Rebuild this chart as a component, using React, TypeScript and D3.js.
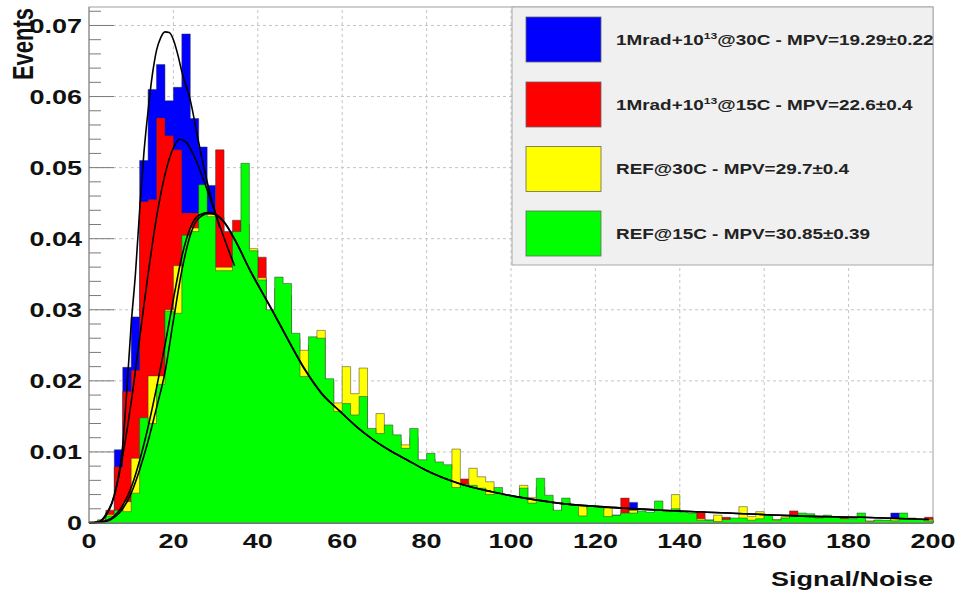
import React from "react";
import * as d3 from "d3";

const W = 957;
const H = 593;
const X_DOMAIN: [number, number] = [0, 200];
const Y_DOMAIN: [number, number] = [0, 0.0726];
const BIN_WIDTH = 2;

const xTicks = [0, 20, 40, 60, 80, 100, 120, 140, 160, 180, 200];
const xTickLabels = ["0", "20", "40", "60", "80", "100", "120", "140", "160", "180", "200"];
const yTicks = [0, 0.01, 0.02, 0.03, 0.04, 0.05, 0.06, 0.07];
const yTickLabels = ["0", "0.01", "0.02", "0.03", "0.04", "0.05", "0.06", "0.07"];

// 100 bins of width 2 from 0 to 200
const blueCounts = [
  0.0001, 0.0003, 0.0015, 0.0103, 0.0219, 0.029, 0.051, 0.061, 0.0645, 0.0594,
  0.0613, 0.0688, 0.0569, 0.0529, 0.0475, 0.043, 0.039, 0.035, 0.032, 0.029,
  0.026, 0.024, 0.0215, 0.0195, 0.0175, 0.016, 0.0145, 0.013, 0.012, 0.011,
  0.01, 0.0092, 0.0085, 0.0078, 0.0072, 0.0066, 0.0061, 0.0056, 0.0052, 0.0048,
  0.0045, 0.0042, 0.0039, 0.0036, 0.0034, 0.0032, 0.003, 0.0028, 0.0026, 0.0024,
  0.0023, 0.0022, 0.002, 0.0019, 0.0018, 0.0016, 0.0016, 0.0015, 0.0014, 0.0013,
  0.0013, 0.0008, 0.0011, 0.0011, 0.0029, 0.001, 0.0009, 0.0009, 0.0008, 0.0008,
  0.0004, 0.0004, 0.0004, 0.0004, 0.0004, 0.0004, 0.0004, 0.0004, 0.0003, 0.0003,
  0.0003, 0.0003, 0.0003, 0.0003, 0.0003, 0.0003, 0.0003, 0.0003, 0.0003, 0.0003,
  0.0003, 0.0003, 0.0002, 0.0002, 0.0002, 0.0014, 0.0002, 0.0002, 0.0002, 0.0002,
];

const redCounts = [
  0.0001, 0.0004, 0.0018, 0.0079, 0.0185, 0.0215, 0.0452, 0.0455, 0.057, 0.0545,
  0.0525, 0.0436, 0.0436, 0.0412, 0.04, 0.0525, 0.041, 0.0426, 0.038, 0.035,
  0.0374, 0.028, 0.026, 0.024, 0.022, 0.0195, 0.018, 0.016, 0.015, 0.0135,
  0.0125, 0.0115, 0.0105, 0.0098, 0.009, 0.0085, 0.0078, 0.0072, 0.0066, 0.0062,
  0.0058, 0.0055, 0.005, 0.0046, 0.0062, 0.004, 0.0037, 0.0035, 0.0032, 0.003,
  0.0028, 0.0026, 0.0025, 0.0023, 0.0021, 0.0016, 0.0019, 0.0017, 0.0016, 0.0015,
  0.0014, 0.0008, 0.001, 0.0035, 0.0012, 0.0011, 0.001, 0.001, 0.0009, 0.0009,
  0.0008, 0.0008, 0.0016, 0.0004, 0.0005, 0.0008, 0.0006, 0.0006, 0.0004, 0.0005,
  0.0005, 0.0004, 0.0005, 0.0017, 0.0004, 0.0004, 0.0004, 0.0004, 0.0004, 0.0008,
  0.0003, 0.0003, 0.0002, 0.0003, 0.0003, 0.0003, 0.0003, 0.0003, 0.0003, 0.0008,
];

const yellowCounts = [
  0.0002, 0.0004, 0.0012, 0.0017, 0.003, 0.0091, 0.014, 0.0207, 0.0207, 0.03,
  0.0362, 0.04, 0.0415, 0.044, 0.0434, 0.036, 0.036, 0.04, 0.042, 0.0386,
  0.0345, 0.029, 0.033, 0.032, 0.026, 0.0243, 0.025, 0.0271, 0.02, 0.0169,
  0.022, 0.0182, 0.0218, 0.0125, 0.0154, 0.013, 0.0115, 0.011, 0.012, 0.0085,
  0.009, 0.008, 0.0075, 0.0104, 0.005, 0.0077, 0.0065, 0.0058, 0.0045, 0.0035,
  0.0033, 0.0053, 0.0036, 0.005, 0.003, 0.0015, 0.003, 0.0026, 0.0024, 0.002,
  0.0018, 0.0021, 0.0008, 0.0012, 0.0018, 0.0012, 0.001, 0.0017, 0.0017, 0.004,
  0.001, 0.001, 0.0006, 0.0003, 0.0011, 0.0004, 0.0005, 0.0023, 0.0009, 0.0016,
  0.0006, 0.0005, 0.0009, 0.0008, 0.0006, 0.0008, 0.0008, 0.0005, 0.0006, 0.0004,
  0.0006, 0.0005, 0.0003, 0.0004, 0.0003, 0.0006, 0.0006, 0.0004, 0.0003, 0.0005,
];

const greenCounts = [
  0.0001, 0.0004, 0.001, 0.0018, 0.0016, 0.0042, 0.0148, 0.014, 0.0195, 0.0298,
  0.0295, 0.0405, 0.041, 0.0476, 0.0431, 0.0355, 0.0355, 0.041, 0.0506, 0.0383,
  0.0342, 0.03, 0.0346, 0.0337, 0.0267, 0.0206, 0.0262, 0.026, 0.0203, 0.0157,
  0.0168, 0.0152, 0.0178, 0.0133, 0.0126, 0.0138, 0.0124, 0.0105, 0.0133, 0.0089,
  0.0098, 0.0086, 0.0082, 0.005, 0.0055, 0.0053, 0.0049, 0.004, 0.005, 0.0039,
  0.0037, 0.0049, 0.0028, 0.0063, 0.0039, 0.0018, 0.0035, 0.0025, 0.001, 0.0024,
  0.0023, 0.0009, 0.0011, 0.0014, 0.0014, 0.0017, 0.0015, 0.0031, 0.0016, 0.002,
  0.0015, 0.0014, 0.0004, 0.0004, 0.0002, 0.0005, 0.0007, 0.0007, 0.0004, 0.0006,
  0.0011, 0.0004, 0.0007, 0.0011, 0.0014, 0.0013, 0.0007, 0.0011, 0.0009, 0.0006,
  0.0006, 0.0014, 0.0002, 0.0004, 0.0004, 0.0003, 0.0014, 0.0007, 0.0005, 0.0003,
];

// Fit curves: [signal/noise, value]
const fitBlue: [number, number][] = [
  [0, 0], [2, 0.0001], [4, 0.0012], [6, 0.004], [8, 0.011], [9, 0.019], [10, 0.028],
  [11, 0.035], [12, 0.044], [13, 0.052], [14, 0.058], [15, 0.063], [16, 0.0665],
  [17, 0.0683], [18, 0.0691], [19, 0.069], [20, 0.068], [21, 0.066], [22, 0.0635],
  [24, 0.0595], [26, 0.0535], [28, 0.048], [30, 0.0435], [31, 0.0415],
];
const fitRed: [number, number][] = [
  [0, 0], [2, 0.0001], [4, 0.001], [6, 0.0038], [8, 0.0095], [10, 0.017], [12, 0.026],
  [14, 0.035], [16, 0.043], [18, 0.049], [20, 0.0528], [21.5, 0.054], [23, 0.0536],
  [25, 0.0515], [27, 0.0485], [29, 0.0452], [31, 0.0418], [33, 0.0385], [34.5, 0.0362],
];
const fitYellow: [number, number][] = [
  [0, 0], [4, 0.0003], [6, 0.001], [8, 0.0025], [10, 0.005], [12, 0.0088], [14, 0.0135],
  [16, 0.019], [18, 0.025], [20, 0.0315], [22, 0.0375], [24, 0.0415], [26, 0.0433],
  [28.6, 0.0437], [32, 0.0424], [35, 0.0394], [38, 0.0358], [41.6, 0.0319], [43.3, 0.0301],
  [47.2, 0.0258], [51.2, 0.0216], [55.1, 0.0183], [59.5, 0.0157], [63.5, 0.0135],
  [67.4, 0.0117], [71.3, 0.0102], [75.3, 0.0089], [79.6, 0.0075], [87.5, 0.0056],
  [95.4, 0.0044], [103.3, 0.0035], [111.2, 0.0028], [121, 0.0023], [135.7, 0.0018],
  [151.5, 0.0014], [167.3, 0.001], [183, 0.0008], [199, 0.0005],
];
const fitGreen: [number, number][] = [
  [0, 0], [4, 0.0002], [6, 0.0008], [8, 0.002], [10, 0.0042], [12, 0.0075], [14, 0.0115],
  [16, 0.0162], [18, 0.0212], [20, 0.0285], [22, 0.0355], [24, 0.0405], [26, 0.0429],
  [28.6, 0.0436], [32, 0.0423], [35, 0.0393], [38, 0.0357], [41.6, 0.0318], [43.3, 0.03],
  [47.2, 0.0257], [51.2, 0.0215], [55.1, 0.0182], [59.5, 0.0157], [63.5, 0.0135],
  [67.4, 0.0117], [71.3, 0.0102], [75.3, 0.0089], [79.6, 0.0075], [87.5, 0.0056],
  [95.4, 0.0044], [103.3, 0.0035], [111.2, 0.0028], [121, 0.0023], [135.7, 0.0018],
  [151.5, 0.0014], [167.3, 0.001], [183, 0.0008], [199, 0.0005],
];

const seriesColors = ["#0000ff", "#ff0000", "#ffff00", "#00ff00"];
const legendPre = ["1Mrad+10", "1Mrad+10", "REF@30C - MPV=29.7\u00b10.4", "REF@15C - MPV=30.85\u00b10.39"];
const legendSup = ["13", "13", "", ""];
const legendPost = ["@30C - MPV=19.29\u00b10.22", "@15C - MPV=22.6\u00b10.4", "", ""];

const FONT = "'Liberation Sans', Arial, Helvetica, sans-serif";
const SX = 1.35;

export default function App() {
  const x = d3.scaleLinear().domain(X_DOMAIN).range([89, 933]);
  const y = d3.scaleLinear().domain(Y_DOMAIN).range([523, 7]);
  const [x0, x1] = x.range();
  const [yb, yt] = y.range();

  const histPath = (counts: number[]) => {
    const data = counts.map((v, i) => ({ u: i * BIN_WIDTH, v }));
    data.push({ u: counts.length * BIN_WIDTH, v: counts[counts.length - 1] });
    return d3
      .area<{ u: number; v: number }>()
      .x((d) => x(d.u))
      .y0(y(0))
      .y1((d) => y(d.v))
      .curve(d3.curveStepAfter)(data) as string;
  };

  const fitLine = d3
    .line<[number, number]>()
    .x((d) => x(d[0]))
    .y((d) => y(d[1]))
    .curve(d3.curveMonotoneX);

  const minorY = d3.range(0, Y_DOMAIN[1], 0.002);
  const hists = [blueCounts, redCounts, yellowCounts, greenCounts];
  const fits = [fitBlue, fitRed, fitYellow, fitGreen];

  const legendX0 = 512;
  const legendY0 = 7;
  const rowCenters = [39.5, 104.5, 169, 233.5];

  return (
    <svg
      width={W}
      height={H}
      style={{ position: "fixed", left: 0, top: 0, background: "#fff" }}
      fontFamily={FONT}
      fontWeight="bold"
    >
      <rect x={0} y={0} width={W} height={H} fill="#fff" />
      {/* grid */}
      {xTicks.slice(1, -1).map((t) => (
        <line key={"gx" + t} x1={x(t)} x2={x(t)} y1={yb} y2={yt} stroke="#c4c4c4" strokeDasharray="3,3" strokeWidth={1} />
      ))}
      {yTicks.slice(1).map((t) => (
        <line key={"gy" + t} x1={x0} x2={x1} y1={y(t)} y2={y(t)} stroke="#c4c4c4" strokeDasharray="3,3" strokeWidth={1} />
      ))}
      {/* frame */}
      <rect x={x0} y={yt} width={x1 - x0} height={yb - yt} fill="none" stroke="#a0a0a0" strokeWidth={1} />
      {/* y ticks */}
      {minorY.map((t, i) => (
        <line key={"ty" + i} x1={x0} x2={x0 + (i % 5 === 0 ? 25 : 12)} y1={y(t)} y2={y(t)} stroke="#7a7a7a" strokeWidth={1} />
      ))}
      {/* histograms */}
      {hists.map((h, i) => (
        <path key={"h" + i} d={histPath(h)} fill={seriesColors[i]} stroke="#333" strokeWidth={0.7} strokeOpacity={0.7} />
      ))}
      {/* fits */}
      {fits.map((f, i) => (
        <path key={"f" + i} d={fitLine(f) as string} fill="none" stroke="#000" strokeWidth={1.6} />
      ))}
      {/* axis lines */}
      <line x1={x0} x2={x0} y1={yt} y2={yb} stroke="#888" strokeWidth={1} />
      <line x1={x0} x2={x1} y1={yb} y2={yb} stroke="#888" strokeWidth={1} />
      {/* y tick labels */}
      {yTicks.map((t, i) => (
        <g key={"yl" + t} transform={`translate(82,${y(t) + 7.3}) scale(${SX},1)`}>
          <text x={0} y={0} textAnchor="end" fontSize={20} fill="#111">
            {yTickLabels[i]}
          </text>
        </g>
      ))}
      {/* x tick labels */}
      {xTicks.map((t, i) => (
        <g key={"xl" + t} transform={`translate(${x(t)},548) scale(${SX},1)`}>
          <text x={0} y={0} textAnchor="middle" fontSize={20} fill="#111">
            {xTickLabels[i]}
          </text>
        </g>
      ))}
      {/* axis titles */}
      <g transform={`translate(33,8) scale(${SX},1) rotate(-90)`}>
        <text x={0} y={0} textAnchor="end" fontSize={22} fill="#111">
          Events
        </text>
      </g>
      <g transform={`translate(933,586) scale(${SX},1)`}>
        <text x={0} y={0} textAnchor="end" fontSize={20} fill="#111">
          Signal/Noise
        </text>
      </g>
      {/* legend */}
      <rect x={legendX0} y={legendY0} width={x1 - legendX0} height={265 - legendY0} fill="#f0f0f0" stroke="#a8a8a8" strokeWidth={1} />
      {rowCenters.map((cy, i) => (
        <g key={"lg" + i}>
          <rect x={526} y={cy - 22.5} width={75} height={45} fill={seriesColors[i]} stroke="#666" strokeWidth={0.8} />
          <g transform={`translate(616,${cy + 5}) scale(${SX},1)`}>
            <text x={0} y={0} fontSize={14} fill="#222">
              <tspan>{legendPre[i]}</tspan>
              {legendSup[i] ? (
                <tspan fontSize={9} dy={-6}>
                  {legendSup[i]}
                </tspan>
              ) : null}
              {legendPost[i] ? <tspan dy={legendSup[i] ? 6 : 0}>{legendPost[i]}</tspan> : null}
            </text>
          </g>
        </g>
      ))}
    </svg>
  );
}
